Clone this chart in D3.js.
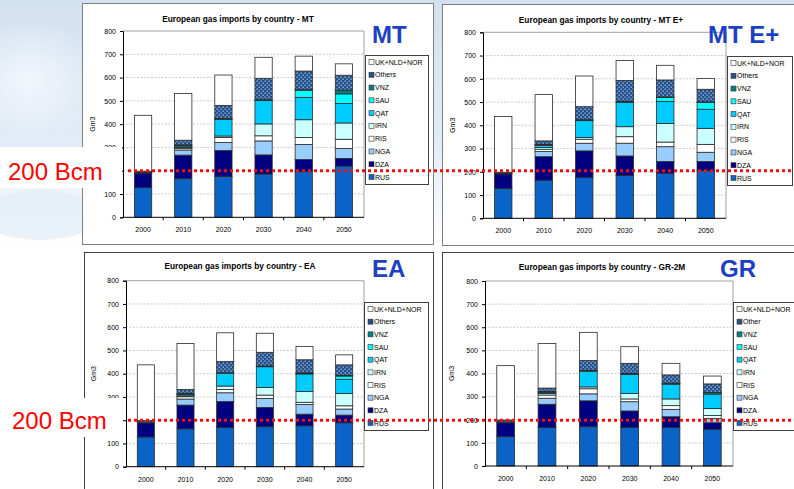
<!DOCTYPE html>
<html><head><meta charset="utf-8">
<script src="https://cdn.jsdelivr.net/npm/d3@7"></script>
<style>html,body{margin:0;padding:0;background:#fff;overflow:hidden}svg{display:block}</style>
</head><body>
<svg id="chart" width="794" height="489"></svg>
<script>
// ---- data -------------------------------------------------------------
const years = ["2000", "2010", "2020", "2030", "2040", "2050"];
const seriesNames = ["RUS", "DZA", "NGA", "RIS", "IRN", "QAT", "SAU", "VNZ", "Others", "UK+NLD+NOR"];
const legendNamesGR = ["RUS", "DZA", "NGA", "RIS", "IRN", "QAT", "SAU", "VNZ", "Other", "UK+NLD+NOR"];
const yTicks = [0, 100, 200, 300, 400, 500, 600, 700, 800];
const titles = [
  "European gas imports by country - MT",
  "European gas imports by country - MT E+",
  "European gas imports by country - EA",
  "European gas imports by country - GR-2M"
];
const scenarioTags = ["MT", "MT E+", "EA", "GR"];
const thresholdValue = 200;
const thresholdLabel = "200 Bcm";

// Gm3; rows follow seriesNames, columns follow years
const importsMT = [
  [128, 166, 175, 186, 196, 220],
  [62, 101, 112, 82, 52, 33],
  [3, 22, 34, 60, 65, 43],
  [0, 6, 22, 22, 30, 39],
  [0, 5, 6, 51, 76, 70],
  [0, 6, 71, 101, 96, 84],
  [0, 3, 3, 0, 31, 41],
  [0, 2, 2, 3, 2, 16],
  [5, 20, 55, 92, 80, 64],
  [240, 201, 131, 90, 64, 49]
];
const importsMTEplus = [
  [129, 164, 175, 184, 194, 205],
  [62, 101, 115, 84, 50, 39],
  [3, 22, 33, 55, 64, 40],
  [0, 10, 17, 28, 20, 34],
  [0, 8, 8, 43, 80, 69],
  [0, 8, 72, 105, 94, 82],
  [0, 3, 2, 0, 18, 30],
  [0, 2, 2, 4, 2, 2],
  [4, 15, 56, 90, 73, 54],
  [240, 199, 132, 86, 63, 46]
];
const importsEA = [
  [128, 163, 169, 172, 176, 189],
  [60, 102, 111, 83, 50, 33],
  [4, 26, 38, 39, 42, 26],
  [0, 10, 14, 14, 9, 14],
  [0, 4, 15, 33, 46, 53],
  [0, 6, 55, 89, 76, 61],
  [0, 2, 2, 0, 3, 14],
  [0, 2, 0, 3, 2, 2],
  [6, 17, 48, 59, 56, 46],
  [240, 198, 124, 82, 57, 43]
];
const importsGR = [
  [127, 166, 170, 167, 167, 159],
  [60, 101, 112, 71, 46, 28],
  [4, 26, 30, 40, 32, 19],
  [0, 14, 22, 12, 16, 12],
  [0, 7, 8, 24, 29, 31],
  [0, 4, 68, 82, 64, 62],
  [0, 2, 2, 2, 2, 5],
  [0, 2, 2, 2, 2, 2],
  [8, 15, 42, 44, 36, 37],
  [235, 193, 122, 72, 50, 34]
];

// ---- styling ----------------------------------------------------------
const seriesFill = {
  "RUS": "#0a64c8", "DZA": "#000080", "NGA": "#99ccff", "RIS": "#ffffff",
  "IRN": "#ccffff", "QAT": "#00ccff", "SAU": "#00ffff", "VNZ": "#008080",
  "Others": "url(#dots)", "UK+NLD+NOR": "#ffffff"
};
const FONT = "Liberation Sans, Arial, Helvetica, sans-serif";

const panels = [
  { values: importsMT, legend: seriesNames,
    frame: { x: 82.5, y: 3.5, w: 351, h: 241 }, plot: { x0: 123, x1: 364, top: 31, zero: 217.3 },
    legendBox: { x: 365, y: 55, w: 63, h: 129 }, titleX: 238, titleY: 22, tagX: 372, tagY: 43,
    gmX: 95, labelY: 233 },
  { values: importsMTEplus, legend: seriesNames,
    frame: { x: 442.5, y: 4.5, w: 360, h: 241 }, plot: { x0: 483, x1: 726, top: 32.3, zero: 218.3 },
    legendBox: { x: 727, y: 56, w: 65, h: 129 }, titleX: 601, titleY: 23, tagX: 708, tagY: 43,
    gmX: 455, labelY: 234 },
  { values: importsEA, legend: seriesNames,
    frame: { x: 84.5, y: 252.5, w: 349, h: 245 }, plot: { x0: 126, x1: 364, top: 280.7, zero: 466.7 },
    legendBox: { x: 364, y: 302, w: 64, h: 128 }, titleX: 240, titleY: 269, tagX: 372, tagY: 277,
    gmX: 96, labelY: 481 },
  { values: importsGR, legend: legendNamesGR,
    frame: { x: 442.5, y: 252.5, w: 360, h: 245 }, plot: { x0: 485, x1: 733, top: 281, zero: 466 },
    legendBox: { x: 733, y: 302, w: 70, h: 128 }, titleX: 602, titleY: 270, tagX: 720, tagY: 277,
    gmX: 454, labelY: 481 }
];

const svg = d3.select("#chart");
const defs = svg.append("defs");

// background sky wash
const bg = defs.append("linearGradient").attr("id", "sky").attr("x1", 0).attr("y1", 0).attr("x2", 0).attr("y2", 1);
bg.append("stop").attr("offset", "0%").attr("stop-color", "#d2e1f0");
bg.append("stop").attr("offset", "30%").attr("stop-color", "#e3ecf6");
bg.append("stop").attr("offset", "50%").attr("stop-color", "#ffffff");
bg.append("stop").attr("offset", "100%").attr("stop-color", "#ffffff");
const cloud = defs.append("radialGradient").attr("id", "cloud");
cloud.append("stop").attr("offset", "0%").attr("stop-color", "#f4f8fc").attr("stop-opacity", 0.9);
cloud.append("stop").attr("offset", "100%").attr("stop-color", "#f4f8fc").attr("stop-opacity", 0);

// dotted fill used for the "Others" series
const pat = defs.append("pattern").attr("id", "dots").attr("patternUnits", "userSpaceOnUse")
  .attr("width", 4).attr("height", 4);
pat.append("rect").attr("width", 4).attr("height", 4).attr("fill", "#24508c");
pat.append("rect").attr("x", 0.5).attr("y", 0.5).attr("width", 1.3).attr("height", 1.3).attr("fill", "#a8c6ea");
pat.append("rect").attr("x", 2.5).attr("y", 2.5).attr("width", 1.3).attr("height", 1.3).attr("fill", "#a8c6ea");

svg.append("rect").attr("width", 794).attr("height", 489).attr("fill", "url(#sky)");
svg.append("ellipse").attr("cx", 30).attr("cy", 80).attr("rx", 70).attr("ry", 60).attr("fill", "url(#cloud)");
svg.append("ellipse").attr("cx", 40).attr("cy", 215).attr("rx", 60).attr("ry", 25).attr("fill", "#e4edf7").attr("opacity", 0.8);

const stack = d3.stack().keys(seriesNames);
const yScales = [];

panels.forEach((p, pi) => {
  const g = svg.append("g");
  g.append("rect").attr("x", p.frame.x).attr("y", p.frame.y).attr("width", p.frame.w).attr("height", p.frame.h)
    .attr("fill", "#ffffff").attr("stroke", pi < 2 ? "#808080" : "#404040").attr("stroke-width", 1);

  const x = d3.scaleBand().domain(years).range([p.plot.x0, p.plot.x1]).padding(0);
  const y = d3.scaleLinear().domain([0, 800]).range([p.plot.zero, p.plot.top]);
  yScales.push(y);
  const barW = x.bandwidth() * 0.43;

  // grid and plot frame
  g.append("g").selectAll("line").data(yTicks.filter(t => t > 0 && t < 800)).join("line")
    .attr("x1", p.plot.x0).attr("x2", p.plot.x1).attr("y1", d => y(d)).attr("y2", d => y(d))
    .attr("stroke", "#bdbdbd").attr("stroke-width", 0.8).attr("stroke-dasharray", "2,1.5");
  g.append("path")
    .attr("d", `M${p.plot.x0},${y(800)}H${p.plot.x1}V${y(0)}`)
    .attr("fill", "none").attr("stroke", "#a0a0a0").attr("stroke-width", 1);

  // stacked bars
  const table = years.map((yr, i) => {
    const row = { year: yr };
    seriesNames.forEach((s, si) => { row[s] = p.values[si][i]; });
    return row;
  });
  const layers = stack(table);
  g.append("g").selectAll("g").data(layers).join("g")
    .attr("fill", d => seriesFill[d.key])
    .selectAll("rect").data(d => d.filter(v => v[1] - v[0] > 0)).join("rect")
    .attr("x", d => x(d.data.year) + (x.bandwidth() - barW) / 2)
    .attr("width", barW)
    .attr("y", d => y(d[1]))
    .attr("height", d => y(d[0]) - y(d[1]))
    .attr("stroke", "#2a2a2a").attr("stroke-width", 0.8);

  // axes
  const ya = g.append("g").attr("transform", `translate(${p.plot.x0},0)`)
    .call(d3.axisLeft(y).tickValues(yTicks).tickSize(3).tickPadding(4));
  ya.select(".domain").attr("stroke", "#000");
  ya.selectAll(".tick line").attr("stroke", "#000");
  ya.selectAll("text").attr("font-family", FONT).attr("font-size", 7).attr("fill", "#000");

  const xa = g.append("g").attr("transform", `translate(0,${p.plot.zero})`)
    .call(d3.axisBottom(x).tickSize(0).tickPadding(10));
  xa.select(".domain").attr("stroke", "#000").attr("d", `M${p.plot.x0},0H${p.plot.x1}`);
  xa.selectAll("text").attr("font-family", FONT).attr("font-size", 7).attr("fill", "#000");
  g.append("g").selectAll("line").data(years.slice(1)).join("line")
    .attr("x1", d => x(d)).attr("x2", d => x(d))
    .attr("y1", p.plot.zero).attr("y2", p.plot.zero + 3).attr("stroke", "#000");

  g.append("text").attr("transform", `translate(${p.gmX},${(p.plot.zero + p.plot.top) / 2}) rotate(-90)`)
    .attr("text-anchor", "middle").attr("font-family", FONT).attr("font-size", 7).text("Gm3");

  g.append("text").attr("x", p.titleX).attr("y", p.titleY).attr("text-anchor", "middle")
    .attr("font-family", FONT).attr("font-size", 8.3).attr("font-weight", "bold").text(titles[pi]);

  g.append("text").attr("x", p.tagX).attr("y", p.tagY)
    .attr("font-family", FONT).attr("font-size", 24).attr("font-weight", "bold")
    .attr("fill", "#1c3fc4").text(scenarioTags[pi]);

  // legend
  const lb = p.legendBox;
  g.append("rect").attr("x", lb.x + 0.5).attr("y", lb.y + 0.5).attr("width", lb.w).attr("height", lb.h)
    .attr("fill", "#fff").attr("stroke", "#404040").attr("stroke-width", 1);
  const step = (lb.h - 14) / 9;
  const items = seriesNames.map((s, si) => ({ key: s, label: p.legend[si] })).reverse();
  const li = g.append("g").selectAll("g").data(items).join("g")
    .attr("transform", (d, i) => `translate(${lb.x + 4},${lb.y + 7 + i * step})`);
  li.append("rect").attr("x", 0).attr("y", -2.5).attr("width", 5).attr("height", 5)
    .attr("fill", d => d.key === "Others" ? "#24508c" : seriesFill[d.key])
    .attr("stroke", "#333").attr("stroke-width", 0.6);
  li.append("text").attr("x", 6).attr("y", 2.5)
    .attr("font-family", FONT).attr("font-size", 7).attr("fill", "#000").text(d => d.label);
});

// 200 Bcm threshold markers
[[0, 147, 188, 8, 180], [2, 398, 437, 12, 429]].forEach(([pi, y0, y1, tx, ty]) => {
  svg.append("rect").attr("x", 0).attr("y", y0).attr("width", 122).attr("height", y1 - y0).attr("fill", "#ffffff");
  svg.append("text").attr("x", tx).attr("y", ty).attr("font-family", FONT).attr("font-size", 24)
    .attr("fill", "#ff0000").text(thresholdLabel);
  const yy = yScales[pi](thresholdValue);
  svg.append("line").attr("x1", 128).attr("x2", 794).attr("y1", yy).attr("y2", yy)
    .attr("stroke", "#ee1111").attr("stroke-width", 3).attr("stroke-dasharray", "3,3");
});
</script>
</body></html>
